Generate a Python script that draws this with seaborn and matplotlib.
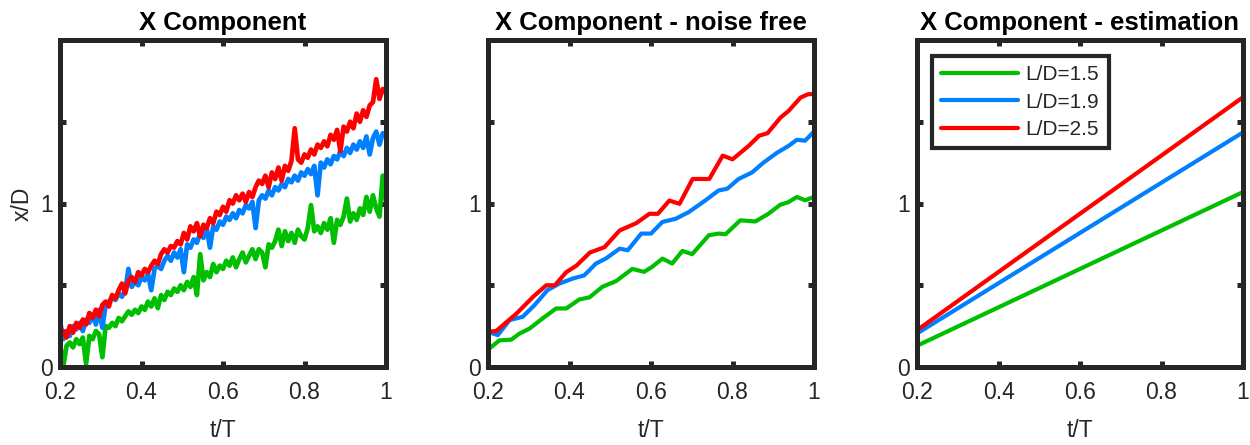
import numpy as np
import pandas as pd
import matplotlib
matplotlib.use("Agg")
import matplotlib.pyplot as plt
import seaborn as sns

# ---- measured trajectories (x/D against t/T) ----
series_names = ["L/D=1.5", "L/D=1.9", "L/D=2.5"]
series_colors = ["#00BF00", "#0080FF", "#FF0000"]

# raw measurements, sampled every 0.008 t/T from 0.2 to 1
raw_green = [0.14, 0.00, 0.13, 0.15, 0.12, 0.17, 0.14, 0.18, 0.02, 0.19,
             0.17, 0.22, 0.20, 0.06, 0.25, 0.24, 0.27, 0.25, 0.30, 0.28,
             0.31, 0.34, 0.32, 0.35, 0.33, 0.37, 0.35, 0.40, 0.37, 0.42,
             0.36, 0.44, 0.41, 0.46, 0.44, 0.48, 0.46, 0.50, 0.47, 0.52,
             0.49, 0.55, 0.44, 0.69, 0.53, 0.58, 0.55, 0.63, 0.58, 0.62,
             0.60, 0.65, 0.62, 0.67, 0.61, 0.66, 0.70, 0.64, 0.68, 0.72,
             0.66, 0.72, 0.70, 0.61, 0.75, 0.73, 0.77, 0.84, 0.74, 0.83,
             0.77, 0.82, 0.76, 0.84, 0.80, 0.78, 0.85, 0.99, 0.83, 0.86,
             0.82, 0.88, 0.84, 0.91, 0.76, 0.90, 0.87, 0.92, 1.03, 0.89,
             0.94, 0.90, 0.97, 0.93, 1.04, 0.95, 1.05, 0.97, 0.92, 1.17,
             1.01]
raw_blue = [0.28, 0.17, 0.22, 0.19, 0.25, 0.23, 0.27, 0.22, 0.29, 0.27,
            0.32, 0.26, 0.35, 0.24, 0.38, 0.40, 0.43, 0.41, 0.45, 0.43,
            0.47, 0.60, 0.49, 0.52, 0.50, 0.55, 0.53, 0.57, 0.47, 0.60,
            0.62, 0.60, 0.65, 0.68, 0.65, 0.70, 0.67, 0.72, 0.58, 0.75,
            0.73, 0.78, 0.76, 0.82, 0.79, 0.85, 0.73, 0.86, 0.84, 0.89,
            0.87, 0.92, 0.90, 0.94, 0.91, 0.96, 0.94, 0.99, 0.97, 1.01,
            0.85, 1.02, 1.05, 1.03, 1.08, 1.05, 1.10, 1.08, 1.12, 1.10,
            1.15, 1.13, 1.17, 1.14, 1.19, 1.17, 1.21, 1.18, 1.23, 1.05,
            1.25, 1.22, 1.27, 1.24, 1.29, 1.27, 1.32, 1.29, 1.34, 1.31,
            1.36, 1.33, 1.38, 1.34, 1.41, 1.30, 1.40, 1.44, 1.36, 1.43,
            1.42]
raw_red = [0.20, 0.22, 0.18, 0.25, 0.21, 0.27, 0.24, 0.29, 0.26, 0.33,
           0.30, 0.35, 0.31, 0.38, 0.40, 0.37, 0.44, 0.42, 0.47, 0.51,
           0.45, 0.53, 0.55, 0.52, 0.58, 0.56, 0.60, 0.58, 0.62, 0.65,
           0.63, 0.69, 0.72, 0.70, 0.74, 0.73, 0.77, 0.75, 0.82, 0.78,
           0.86, 0.83, 0.88, 0.80, 0.87, 0.85, 0.91, 0.88, 0.95, 0.93,
           0.98, 0.95, 1.02, 1.00, 1.05, 1.02, 1.06, 1.01, 1.07, 1.04,
           1.10, 1.14, 1.12, 1.17, 1.10, 1.19, 1.15, 1.22, 1.14, 1.23,
           1.20, 1.26, 1.46, 1.27, 1.25, 1.30, 1.28, 1.33, 1.30, 1.36,
           1.34, 1.38, 1.35, 1.42, 1.39, 1.45, 1.32, 1.47, 1.44, 1.50,
           1.46, 1.55, 1.50, 1.57, 1.53, 1.60, 1.62, 1.76, 1.64, 1.70,
           1.68]

# filtered (noise free) trajectories
nf_green_t = [0.200, 0.228, 0.257, 0.277, 0.302, 0.334, 0.367, 0.392, 0.424,
              0.449, 0.481, 0.514, 0.554, 0.583, 0.603, 0.628, 0.652, 0.677,
              0.701, 0.742, 0.766, 0.783, 0.819, 0.856, 0.888, 0.917, 0.937,
              0.958, 0.978, 1.000]
nf_green = [0.106, 0.163, 0.167, 0.204, 0.235, 0.297, 0.358, 0.358, 0.413,
            0.426, 0.491, 0.525, 0.600, 0.582, 0.613, 0.663, 0.633, 0.710,
            0.690, 0.806, 0.816, 0.812, 0.897, 0.890, 0.937, 0.992, 1.008,
            1.040, 1.020, 1.040]
nf_blue_t = [0.200, 0.224, 0.253, 0.285, 0.314, 0.346, 0.375, 0.408, 0.436,
             0.465, 0.489, 0.523, 0.543, 0.576, 0.600, 0.628, 0.661, 0.693,
             0.734, 0.766, 0.787, 0.815, 0.848, 0.876, 0.909, 0.938, 0.958,
             0.978, 1.000]
nf_blue = [0.215, 0.195, 0.287, 0.307, 0.378, 0.470, 0.510, 0.541, 0.560,
           0.633, 0.663, 0.724, 0.714, 0.816, 0.816, 0.887, 0.907, 0.948,
           1.020, 1.080, 1.090, 1.150, 1.190, 1.250, 1.310, 1.353, 1.390,
           1.384, 1.440]
nf_red_t = [0.200, 0.220, 0.270, 0.311, 0.343, 0.364, 0.392, 0.417, 0.450,
            0.486, 0.523, 0.564, 0.596, 0.617, 0.645, 0.670, 0.702, 0.743,
            0.776, 0.800, 0.840, 0.865, 0.886, 0.918, 0.938, 0.967, 0.985,
            1.000]
nf_red = [0.215, 0.220, 0.327, 0.430, 0.500, 0.500, 0.580, 0.620, 0.700,
          0.733, 0.835, 0.880, 0.937, 0.937, 1.018, 0.998, 1.150, 1.150,
          1.293, 1.270, 1.353, 1.414, 1.430, 1.526, 1.567, 1.648, 1.668,
          1.670]

# linear estimates: end points at t/T = 0.2 and 1
est_t = [0.2, 1.0]
est_green = [0.13, 1.07]
est_blue = [0.205, 1.435]
est_red = [0.225, 1.65]

x_ticks = [0.2, 0.4, 0.6, 0.8, 1.0]
x_tick_labels = ["0.2", "0.4", "0.6", "0.8", "1"]
y_ticks = [0.0, 0.5, 1.0, 1.5, 2.0]
y_tick_labels = ["0", "", "1", "", ""]
titles = ["X Component", "X Component - noise free", "X Component - estimation"]


def long_frame(ts, ys):
    rows = []
    for name, t, y in zip(series_names, ts, ys):
        rows.append(pd.DataFrame({"t": t, "x": y, "case": name}))
    return pd.concat(rows, ignore_index=True)


raw_frame = long_frame(
    [np.linspace(0.2, 1.0, len(v)) for v in (raw_green, raw_blue, raw_red)],
    [raw_green, raw_blue, raw_red])
nf_frame = long_frame([nf_green_t, nf_blue_t, nf_red_t], [nf_green, nf_blue, nf_red])
est_frame = long_frame([est_t] * 3, [est_green, est_blue, est_red])

sns.set_theme(style="white")
plt.rcParams["font.family"] = ["Liberation Sans", "DejaVu Sans"]

frame_color = "#262626"
fig = plt.figure(figsize=(12.5, 4.45), dpi=100)
W, H = 1250, 445
lefts = [60, 488, 917]
ax_w, ax_top, ax_bot = 326, 40, 367
palette = dict(zip(series_names, series_colors))
widths = [3.4, 3.0, 3.0]

axes = []
for i, (left, frame) in enumerate(zip(lefts, [raw_frame, nf_frame, est_frame])):
    ax = fig.add_axes([left / W, 1 - ax_bot / H, ax_w / W, (ax_bot - ax_top) / H])
    sns.lineplot(data=frame, x="t", y="x", hue="case", palette=palette,
                 hue_order=series_names, linewidth=widths[i], sort=False,
                 estimator=None, legend=(i == 2), ax=ax)
    ax.set_xlim(0.2, 1.0)
    ax.set_ylim(0, 2)
    ax.set_xticks(x_ticks)
    ax.set_xticklabels(x_tick_labels)
    ax.set_yticks(y_ticks)
    ax.set_yticklabels(y_tick_labels)
    ax.tick_params(axis="both", direction="in", length=4.5, width=3.6,
                   color=frame_color, labelsize=16.5, labelcolor="#262626",
                   top=True, right=True, bottom=True, left=True)
    ax.tick_params(axis="x", pad=10)
    ax.tick_params(axis="y", pad=5)
    for sp in ax.spines.values():
        sp.set_visible(True)
        sp.set_linewidth(3.6)
        sp.set_color(frame_color)
    ax.set_xlabel("t/T", fontsize=16.5, color="#262626", labelpad=11)
    ax.set_ylabel("x/D" if i == 0 else "", fontsize=16.5, color="#262626", labelpad=5)
    ax.set_title(titles[i], fontsize=18.5, fontweight="bold", color="black", pad=7)
    axes.append(ax)

leg = axes[2].legend(loc="upper left", bbox_to_anchor=(0.046, 0.951),
                     borderaxespad=0, fontsize=15, handlelength=3.7,
                     handletextpad=0.35, labelspacing=0.4, borderpad=0.45,
                     fancybox=False, framealpha=1, edgecolor=frame_color)
leg.get_frame().set_linewidth(3.0)
for line in leg.get_lines():
    line.set_linewidth(3.0)
for txt in leg.get_texts():
    txt.set_color("#262626")

fig.savefig("out.png", dpi=100)
